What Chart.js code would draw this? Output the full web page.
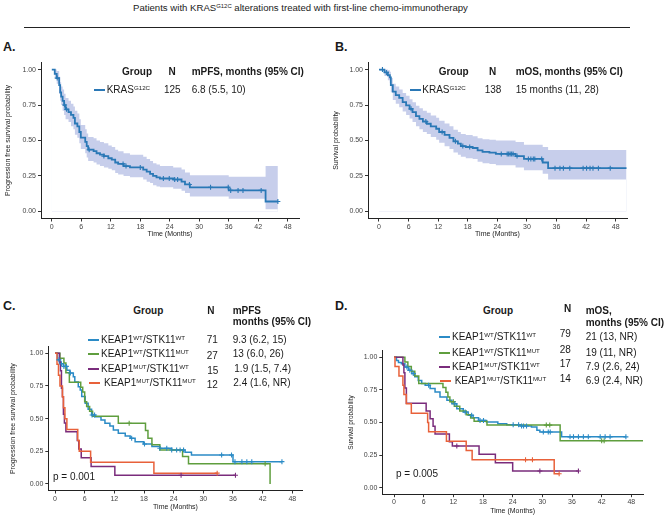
<!DOCTYPE html>
<html><head><meta charset="utf-8">
<script src="https://cdn.jsdelivr.net/npm/chart.js@4.4.1/dist/chart.umd.min.js"></script>
<style>
html,body{margin:0;padding:0;background:#fff;}
#wrap{position:relative;width:666px;height:518px;overflow:hidden;font-family:"Liberation Sans",Arial,sans-serif;color:#1a1a1a;background:#fff;}
.t{position:absolute;white-space:nowrap;line-height:1;font-size:10px;z-index:2;}
.b{font-weight:bold;}
.L{font-weight:bold;font-size:12.5px;}
canvas{position:absolute;z-index:1;}
sup{font-size:0.62em;vertical-align:baseline;position:relative;top:-0.5em;line-height:0;}
.sw{position:absolute;height:2px;z-index:2;}
</style></head><body><div id="wrap">
<div class="t" style="left:133px;top:3.4px;font-size:9.6px;color:#222">Patients with KRAS<sup>G12C</sup> alterations treated with first-line chemo-immunotherapy</div>
<div style="position:absolute;left:24px;top:26.5px;width:606px;height:1.5px;background:#222"></div>

<div class="t L" style="left:3px;top:40.9px">A.</div>
<div class="t L" style="left:335px;top:40.9px">B.</div>
<div class="t L" style="left:3px;top:299.9px">C.</div>
<div class="t L" style="left:335px;top:299.9px">D.</div>

<!-- Legend A -->
<div class="t b" style="left:122px;top:67.4px">Group</div>
<div class="t b" style="left:168.5px;top:67.4px">N</div>
<div class="t b" style="left:191.7px;top:67.4px">mPFS, months (95% CI)</div>
<div class="sw" style="left:94px;top:89px;width:11px;background:#2a78b6"></div>
<div class="t" style="left:106.7px;top:85.1px">KRAS<sup>G12C</sup></div>
<div class="t" style="left:164px;top:85.1px">125</div>
<div class="t" style="left:191.7px;top:85.1px">6.8 (5.5, 10)</div>

<!-- Legend B -->
<div class="t b" style="left:438.7px;top:67.4px">Group</div>
<div class="t b" style="left:489px;top:67.4px">N</div>
<div class="t b" style="left:515.7px;top:67.4px">mOS, months (95% CI)</div>
<div class="sw" style="left:410px;top:89px;width:10.5px;background:#2a78b6"></div>
<div class="t" style="left:422.3px;top:85.1px">KRAS<sup>G12C</sup></div>
<div class="t" style="left:484.7px;top:85.1px">138</div>
<div class="t" style="left:515.7px;top:85.1px">15 months (11, 28)</div>

<!-- Legend C -->
<div class="t b" style="left:133.3px;top:306.1px">Group</div>
<div class="t b" style="left:207.3px;top:306.1px">N</div>
<div class="t b" style="left:232.7px;top:306.1px">mPFS</div>
<div class="t b" style="left:232.7px;top:317.4px">months (95% CI)</div>
<div class="sw" style="left:88.3px;top:339px;width:10.7px;background:#2b8bc6"></div>
<div class="t" style="left:101px;top:335.1px">KEAP1<sup>WT</sup>/STK11<sup>WT</sup></div>
<div class="t" style="left:206.7px;top:334.5px">71</div>
<div class="t" style="left:232.7px;top:335.1px">9.3 (6.2, 15)</div>
<div class="sw" style="left:88.3px;top:353.3px;width:10.7px;background:#5f9e3e"></div>
<div class="t" style="left:101px;top:349.4px">KEAP1<sup>WT</sup>/STK11<sup>MUT</sup></div>
<div class="t" style="left:206.7px;top:350.5px">27</div>
<div class="t" style="left:232.7px;top:349.4px">13 (6.0, 26)</div>
<div class="sw" style="left:88.3px;top:368.3px;width:10.7px;background:#7a2c7c"></div>
<div class="t" style="left:101px;top:364.4px">KEAP1<sup>MUT</sup>/STK11<sup>WT</sup></div>
<div class="t" style="left:207.3px;top:365.5px">15</div>
<div class="t" style="left:234.3px;top:364.4px">1.9 (1.5, 7.4)</div>
<div class="sw" style="left:89.3px;top:382.3px;width:10.7px;background:#e8613a"></div>
<div class="t" style="left:104px;top:378.4px">KEAP1<sup>MUT</sup>/STK11<sup>MUT</sup></div>
<div class="t" style="left:206.7px;top:379.5px">12</div>
<div class="t" style="left:233.3px;top:378.4px">2.4 (1.6, NR)</div>

<!-- Legend D -->
<div class="t b" style="left:483px;top:305.8px">Group</div>
<div class="t b" style="left:564px;top:304px">N</div>
<div class="t b" style="left:585.7px;top:305.8px">mOS,</div>
<div class="t b" style="left:585.7px;top:317.8px">months (95% CI)</div>
<div class="sw" style="left:439px;top:335.7px;width:10.7px;background:#2b8bc6"></div>
<div class="t" style="left:452px;top:331.8px">KEAP1<sup>WT</sup>/STK11<sup>WT</sup></div>
<div class="t" style="left:559.7px;top:329.4px">79</div>
<div class="t" style="left:585.7px;top:331.8px">21 (13, NR)</div>
<div class="sw" style="left:439px;top:351.7px;width:10.7px;background:#5f9e3e"></div>
<div class="t" style="left:452px;top:347.8px">KEAP1<sup>WT</sup>/STK11<sup>MUT</sup></div>
<div class="t" style="left:559.7px;top:345.4px">28</div>
<div class="t" style="left:585.7px;top:347.8px">19 (11, NR)</div>
<div class="sw" style="left:439px;top:365.7px;width:10.7px;background:#7a2c7c"></div>
<div class="t" style="left:452px;top:361.8px">KEAP1<sup>MUT</sup>/STK11<sup>WT</sup></div>
<div class="t" style="left:559.7px;top:359.4px">17</div>
<div class="t" style="left:585.7px;top:361.8px">7.9 (2.6, 24)</div>
<div class="sw" style="left:440px;top:380px;width:10.7px;background:#e8613a"></div>
<div class="t" style="left:454.7px;top:376.1px">KEAP1<sup>MUT</sup>/STK11<sup>MUT</sup></div>
<div class="t" style="left:559.7px;top:373.7px">14</div>
<div class="t" style="left:585.7px;top:376.1px">6.9 (2.4, NR)</div>

<div class="t" style="left:53px;top:471.8px">p = 0.001</div>
<div class="t" style="left:396px;top:469.1px">p = 0.005</div>

<canvas id="cA" width="333" height="190" style="left:0;top:55px"></canvas>
<canvas id="cB" width="333" height="190" style="left:333px;top:55px"></canvas>
<canvas id="cC" width="333" height="183" style="left:0;top:335px"></canvas>
<canvas id="cD" width="333" height="183" style="left:333px;top:335px"></canvas>
</div>
<script>
// ---------- tick labels ----------
const xTicks = [0, 6, 12, 18, 24, 30, 36, 42, 48];
const yTicks = [0, 0.25, 0.5, 0.75, 1];

// ---------- Panel A: PFS, KRAS G12C (n=125) ----------
const aTime  = [0, 0.6, 1.0, 1.5, 1.7, 1.9, 2.2, 2.5, 2.8, 3.4, 3.9, 4.4, 4.7, 5.2, 5.6, 5.9, 6.8, 7.1, 7.4, 8.5, 9.1, 9.8, 10.6, 11.5, 12.2, 12.9, 13.5, 14.6, 15.9, 18.6, 19.3, 20.0, 20.6, 21.3, 22.0, 24.7, 26.4, 27.1, 28.1, 36.0, 43.5, 46.0];
const aSurv  = [1.00, 0.97, 0.94, 0.89, 0.84, 0.81, 0.78, 0.75, 0.72, 0.70, 0.68, 0.66, 0.62, 0.60, 0.56, 0.52, 0.49, 0.46, 0.435, 0.425, 0.41, 0.40, 0.39, 0.375, 0.365, 0.345, 0.335, 0.32, 0.31, 0.295, 0.28, 0.265, 0.25, 0.24, 0.232, 0.225, 0.21, 0.19, 0.17, 0.148, 0.07, 0.07];
const aUpper = [1.0, 1.0, 0.99, 0.95, 0.91, 0.88, 0.86, 0.83, 0.80, 0.78, 0.76, 0.74, 0.71, 0.69, 0.65, 0.61, 0.58, 0.55, 0.525, 0.515, 0.50, 0.49, 0.48, 0.465, 0.455, 0.435, 0.425, 0.41, 0.40, 0.385, 0.37, 0.355, 0.34, 0.33, 0.32, 0.31, 0.295, 0.275, 0.255, 0.245, 0.32, 0.32];
const aLower = [1.0, 0.94, 0.90, 0.83, 0.78, 0.75, 0.71, 0.68, 0.65, 0.63, 0.60, 0.58, 0.54, 0.52, 0.48, 0.44, 0.41, 0.38, 0.355, 0.345, 0.33, 0.32, 0.31, 0.30, 0.29, 0.27, 0.26, 0.25, 0.24, 0.225, 0.21, 0.20, 0.185, 0.175, 0.17, 0.16, 0.145, 0.13, 0.105, 0.09, 0.015, 0.015];
const aCensor = [1.1, 2.6, 3.0, 7.6, 10.6, 14.5, 15.1, 18.0, 22.7, 23.9, 25.0, 25.6, 28.0, 32.3, 35.9, 36.4, 37.9, 38.9, 42.6, 46.0];

// ---------- Panel B: OS, KRAS G12C (n=138) ----------
const bTime  = [0, 1.1, 1.8, 2.2, 2.4, 2.8, 3.4, 4.1, 4.8, 5.5, 6.2, 6.8, 7.5, 8.2, 8.9, 9.7, 10.5, 11.6, 12.2, 13.3, 14.3, 15.1, 16.0, 16.6, 17.6, 19.0, 20.0, 21.0, 22.4, 23.7, 27.7, 29.4, 33.2, 34.3, 50.2];
const bSurv  = [1, 0.98, 0.96, 0.945, 0.89, 0.845, 0.82, 0.80, 0.77, 0.747, 0.723, 0.70, 0.672, 0.653, 0.634, 0.618, 0.60, 0.583, 0.56, 0.54, 0.518, 0.494, 0.478, 0.461, 0.454, 0.447, 0.43, 0.42, 0.414, 0.405, 0.39, 0.37, 0.345, 0.305, 0.305];
const bUpper = [1, 1.0, 0.995, 0.985, 0.94, 0.90, 0.88, 0.86, 0.835, 0.815, 0.79, 0.77, 0.745, 0.727, 0.71, 0.695, 0.677, 0.66, 0.64, 0.62, 0.60, 0.575, 0.56, 0.545, 0.538, 0.53, 0.515, 0.508, 0.505, 0.50, 0.49, 0.47, 0.455, 0.433, 0.433];
const bLower = [1, 0.955, 0.925, 0.905, 0.84, 0.785, 0.76, 0.735, 0.705, 0.68, 0.655, 0.63, 0.60, 0.58, 0.56, 0.545, 0.525, 0.505, 0.485, 0.46, 0.44, 0.415, 0.40, 0.385, 0.375, 0.37, 0.35, 0.34, 0.335, 0.325, 0.31, 0.29, 0.265, 0.225, 0.225];
const bCensor = [0.7, 1.5, 6.5, 9.5, 12.8, 15.5, 17.0, 18.4, 24.8, 26.0, 26.3, 26.6, 26.9, 27.2, 28.0, 30.3, 30.8, 31.3, 31.6, 33.0, 35.7, 36.7, 37.4, 38.7, 41.4, 42.1, 42.8, 43.4, 44.5, 46.9];

// ---------- Panel C: PFS by KEAP1/STK11 ----------
const cWtWtTime = [0, 0.5, 1.0, 1.7, 2.4, 3.0, 3.7, 4.0, 4.7, 5.1, 5.4, 6.1, 6.7, 7.4, 8.1, 9.3, 10.1, 11.1, 11.8, 12.8, 14.2, 15.2, 16.2, 17.9, 19.6, 21.2, 23.6, 26.3, 27.6, 36.0, 45.9];
const cWtWtSurv = [1, 0.95, 0.92, 0.90, 0.87, 0.85, 0.82, 0.78, 0.745, 0.72, 0.67, 0.617, 0.571, 0.528, 0.515, 0.49, 0.464, 0.444, 0.413, 0.388, 0.367, 0.35, 0.324, 0.306, 0.286, 0.273, 0.26, 0.242, 0.222, 0.171, 0.171];
const cWtWtCensor = [0.8, 1.3, 1.8, 2.3, 3.1, 7.5, 8.0, 15.5, 18.1, 21.2, 22.6, 23.6, 24.6, 25.3, 26.0, 33.7, 35.7, 36.4, 37.8, 38.8, 39.8, 45.9];
const cWtMutTime = [0, 1.0, 1.8, 2.2, 2.9, 5.2, 5.6, 6.0, 6.4, 7.0, 7.6, 12.8, 18.3, 18.8, 19.6, 21.2, 25.8, 27.0, 43.5];
const cWtMutSurv = [1, 0.963, 0.926, 0.852, 0.778, 0.741, 0.704, 0.63, 0.593, 0.556, 0.519, 0.464, 0.41, 0.35, 0.30, 0.26, 0.21, 0.155, 0.0];
const cWtMutCensor = [15.0, 42.5];
const cMutWtTime = [0, 0.9, 1.1, 1.3, 1.5, 1.7, 1.9, 2.2, 4.5, 4.8, 5.3, 7.3, 12.1, 36.5];
const cMutWtSurv = [1, 0.933, 0.867, 0.733, 0.667, 0.533, 0.467, 0.40, 0.333, 0.267, 0.20, 0.133, 0.067, 0.067];
const cMutWtCensor = [25.5, 36.5];
const cMutMutTime = [0, 0.4, 0.7, 1.0, 1.5, 1.7, 2.0, 2.4, 4.6, 4.9, 7.2, 20.0, 32.8];
const cMutMutSurv = [1, 0.917, 0.833, 0.75, 0.667, 0.583, 0.50, 0.417, 0.333, 0.25, 0.167, 0.083, 0.083];
const cMutMutCensor = [32.8];

// ---------- Panel D: OS by KEAP1/STK11 ----------
const dWtWtTime = [0, 0.5, 0.9, 1.5, 2.2, 2.9, 3.6, 4.2, 4.9, 5.6, 6.3, 7.3, 8.3, 9.3, 10.7, 11.7, 12.7, 14.0, 15.0, 16.0, 17.1, 18.7, 21.0, 22.8, 25.5, 27.8, 28.9, 29.5, 33.9, 46.9];
const dWtWtSurv = [1, 0.975, 0.96, 0.95, 0.925, 0.90, 0.875, 0.85, 0.823, 0.80, 0.785, 0.76, 0.734, 0.695, 0.67, 0.644, 0.606, 0.58, 0.555, 0.537, 0.516, 0.504, 0.49, 0.483, 0.473, 0.465, 0.44, 0.427, 0.39, 0.39];
const dWtWtCensor = [2.6, 3.2, 3.9, 7.0, 12.3, 14.4, 15.7, 17.4, 18.1, 24.1, 25.2, 25.8, 26.2, 26.8, 30.2, 31.2, 31.6, 35.6, 36.3, 37.3, 38.3, 39.3, 41.7, 42.7, 43.7, 46.9];
const dWtMutTime = [0, 2.2, 2.8, 3.5, 4.2, 5.0, 9.9, 10.5, 10.9, 11.3, 12.2, 13.3, 14.6, 15.5, 16.2, 18.8, 33.6, 50.4];
const dWtMutSurv = [1, 0.964, 0.929, 0.893, 0.857, 0.80, 0.768, 0.732, 0.696, 0.66, 0.625, 0.589, 0.56, 0.535, 0.51, 0.48, 0.36, 0.36];
const dWtMutCensor = [12.0, 30.8, 31.5, 42.0, 42.5];
const dMutWtTime = [0, 1.8, 2.0, 2.2, 2.5, 6.5, 7.3, 7.9, 8.3, 11.2, 11.8, 17.2, 20.5, 24.0, 37.3];
const dMutWtSurv = [1, 0.941, 0.882, 0.765, 0.647, 0.588, 0.529, 0.471, 0.412, 0.353, 0.32, 0.256, 0.192, 0.128, 0.128];
const dMutWtCensor = [12.7, 29.5, 37.3];
const dMutMutTime = [0, 0.2, 1.0, 1.8, 2.0, 2.5, 3.5, 6.8, 7.0, 10.6, 14.6, 15.8, 32.4, 33.4];
const dMutMutSurv = [1, 0.929, 0.857, 0.786, 0.714, 0.643, 0.571, 0.50, 0.429, 0.357, 0.286, 0.214, 0.107, 0.107];
const dMutMutCensor = [26.6, 28.0, 33.4];

// ---------- colours ----------
const colKras = '#2a78b6', colBand = '#c7ceeb';
const colWtWt = '#2b8bc6', colWtMut = '#5f9e3e', colMutWt = '#7a2c7c', colMutMut = '#e8613a';

const FAM = '"Liberation Sans", Arial, sans-serif';
Chart.defaults.font.family = FAM;

function pts(t, v) { return t.map((x, i) => ({x: x, y: v[i]})); }
function stepVal(t, v, at) { let r = v[0]; for (let i = 0; i < t.length; i++) { if (t[i] <= at) r = v[i]; } return r; }

function kmChart(id, L, series, bands) {
  const datasets = [];
  bands.forEach(b => {
    // upper confidence limit filled down to 0, then the part below the lower limit cleared back to white
    datasets.push({data: pts(b.t, b.up), stepped: true, borderWidth: 0, pointRadius: 0, fill: 'origin', backgroundColor: b.fill, borderColor: 'rgba(0,0,0,0)', order: 9});
    datasets.push({data: pts(b.t, b.lo), stepped: true, borderWidth: 0, pointRadius: 0, fill: 'origin', backgroundColor: '#ffffff', borderColor: 'rgba(0,0,0,0)', order: 8});
  });
  series.forEach((s, k) => {
    datasets.push({data: pts(s.t, s.s), stepped: true, borderColor: s.color, borderWidth: L.lw, pointRadius: 0, fill: false, borderCapStyle: 'butt', order: 4 - k * 0.1});
  });
  series.forEach(s => {
    datasets.push({data: s.c.map(t => ({x: t, y: stepVal(s.t, s.s, t)})), showLine: false, pointStyle: 'cross',
      pointRadius: L.cr, pointHoverRadius: L.cr, pointBorderColor: s.color, borderColor: s.color, pointBorderWidth: 1.1, fill: false, order: 1});
  });
  new Chart(document.getElementById(id), {
    type: 'line',
    data: {datasets},
    options: {
      responsive: false, animation: false, devicePixelRatio: 1,
      layout: {padding: {top: L.pt, right: L.pr, left: 0, bottom: 0}},
      plugins: {legend: {display: false}, tooltip: {enabled: false}},
      events: [],
      scales: {
        x: {
          type: 'linear', min: L.xmin, max: L.xmax, bounds: 'data',
          afterFit: s => { s.height = L.xh; },
          afterBuildTicks: s => { s.ticks = xTicks.map(v => ({value: v})); },
          grid: {display: true, drawOnChartArea: false, drawTicks: true, tickLength: 3, tickColor: '#333', tickWidth: 1},
          border: {display: true, color: '#222', width: 1},
          ticks: {autoSkip: false, maxRotation: 0, padding: 1, font: {size: 7, family: FAM}, color: '#444'},
          title: {display: true, text: 'Time (Months)', font: {size: 7, lineHeight: 1, family: FAM}, color: '#222', padding: {top: 0, bottom: L.xtp}}
        },
        y: {
          type: 'linear', min: -0.05, max: 1.05, bounds: 'data',
          afterFit: s => { s.width = L.yw; },
          afterBuildTicks: s => { s.ticks = yTicks.map(v => ({value: v})); },
          grid: {display: true, drawOnChartArea: false, drawTicks: true, tickLength: 3, tickColor: '#333', tickWidth: 1},
          border: {display: true, color: '#222', width: 1},
          ticks: {autoSkip: false, padding: 2, font: {size: 7, family: FAM}, color: '#444', callback: v => Number(v).toFixed(2)},
          title: {display: true, text: L.ytitle, font: {size: L.yts, lineHeight: 1, family: FAM}, color: '#222', padding: {top: L.ytp, bottom: 0}}
        }
      }
    }
  });
}

kmChart('cA', {pt: 7.5, pr: 34, yw: 41, xh: 26.5, xmin: -2.2, xmax: 50.3, ytp: 4.8, yts: 7, xtp: 7.5, lw: 1.8, cr: 2.5, ytitle: 'Progression free survival probability'},
  [{t: aTime, s: aSurv, c: aCensor, color: colKras}],
  [{t: aTime, up: aUpper, lo: aLower, fill: colBand}]);

kmChart('cB', {pt: 7.5, pr: 39, yw: 35, xh: 26.5, xmin: -2.23, xmax: 50.3, ytp: 0, yts: 7, xtp: 7.5, lw: 1.8, cr: 2.5, ytitle: 'Survival probability'},
  [{t: bTime, s: bSurv, c: bCensor, color: colKras}],
  [{t: bTime, up: bUpper, lo: bLower, fill: colBand}]);

kmChart('cC', {pt: 11.8, pr: 30.3, yw: 48.3, xh: 27.5, xmin: -1.36, xmax: 50.1, ytp: 9.2, yts: 7, xtp: 7.8, lw: 1.5, cr: 2.5, ytitle: 'Progression free survival probability'},
  [{t: cWtWtTime, s: cWtWtSurv, c: cWtWtCensor, color: colWtWt},
   {t: cWtMutTime, s: cWtMutSurv, c: cWtMutCensor, color: colWtMut},
   {t: cMutWtTime, s: cMutWtSurv, c: cMutWtCensor, color: colMutWt},
   {t: cMutMutTime, s: cMutMutSurv, c: cMutMutCensor, color: colMutMut}], []);

kmChart('cD', {pt: 15.8, pr: 23, yw: 49.3, xh: 23.8, xmin: -2.37, xmax: 50.36, ytp: 14.7, yts: 6.5, xtp: 3.8, lw: 1.5, cr: 2.5, ytitle: 'Survival probability'},
  [{t: dWtWtTime, s: dWtWtSurv, c: dWtWtCensor, color: colWtWt},
   {t: dWtMutTime, s: dWtMutSurv, c: dWtMutCensor, color: colWtMut},
   {t: dMutWtTime, s: dMutWtSurv, c: dMutWtCensor, color: colMutWt},
   {t: dMutMutTime, s: dMutMutSurv, c: dMutMutCensor, color: colMutMut}], []);
</script>
</body></html>
